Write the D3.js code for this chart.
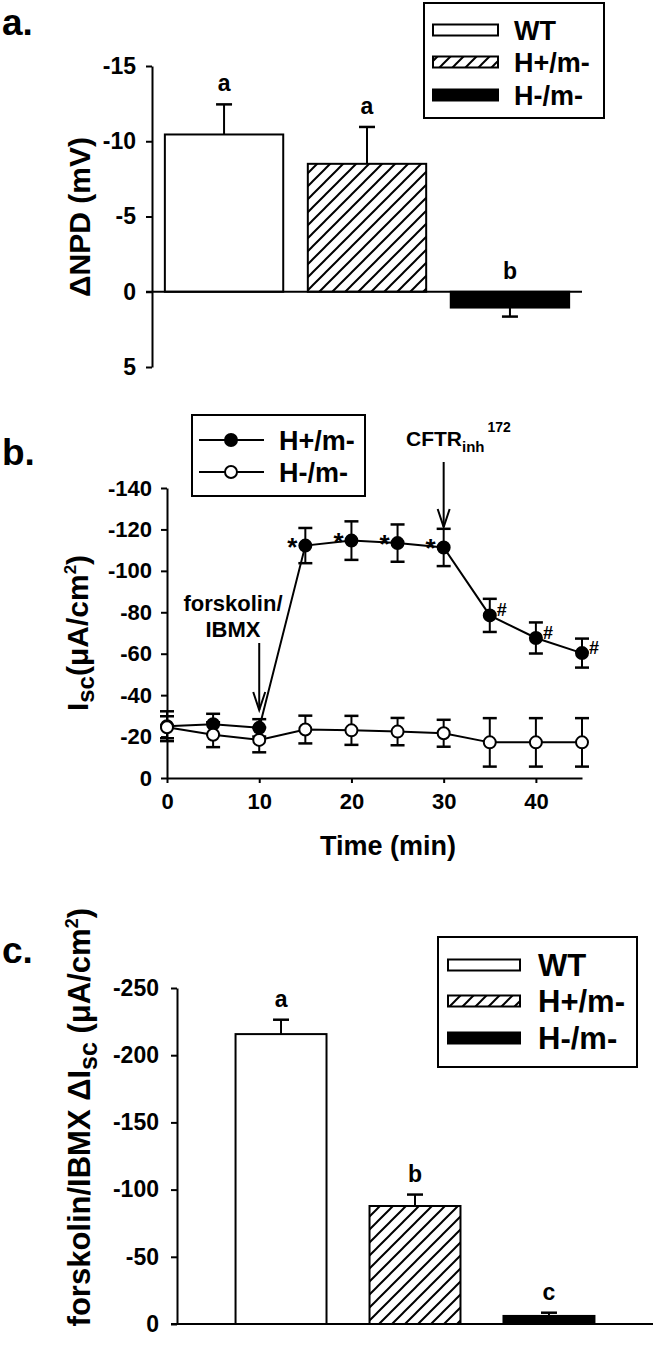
<!DOCTYPE html>
<html><head><meta charset="utf-8">
<script src="https://cdn.jsdelivr.net/npm/d3@7"></script>
<style>
body{margin:0;background:#fff}
svg text{font-family:"Liberation Sans",Arial,sans-serif;font-weight:bold;fill:#000}
</style></head><body>
<svg id="c" width="655" height="1351"></svg>
<script>
// ---------- Panel a data ----------
const groups = ["WT", "H+/m-", "H-/m-"];
const npdMeans = [-10.45, -8.5, 1.05];
const npdErrs = [2.0, 2.45, 0.6];
const npdLetters = ["a", "a", "b"];
const npdTicks = [-15, -10, -5, 0, 5];

// ---------- Panel b data ----------
const times = [0, 5, 10, 15, 20, 25, 30, 35, 40, 45];
const iscHplus = [-25, -26, -24.2, -112.2, -114.6, -113.4, -111.3, -78.5, -67.6, -60.3];
const iscHplusErr = [7.2, 5, 4.2, 8.5, 9.3, 9, 9, 8, 7.5, 7];
const iscHminus = [-24.5, -20.9, -18.4, -23.4, -23, -22.4, -21.6, -17.2, -17.2, -17.2];
const iscHminusErr = [5.3, 6, 6, 6.7, 7, 6.6, 6.5, 11.7, 11.7, 11.7];
const starTimes = [15, 20, 25, 30];
const hashTimes = [35, 40, 45];
const iscTicks = [0, -20, -40, -60, -80, -100, -120, -140];
const timeTicks = [0, 10, 20, 30, 40];
const lineSeries = ["H+/m-", "H-/m-"];

// ---------- Panel c data ----------
const fskMeans = [-215.7, -87.8, -6];
const fskErrs = [10.7, 8.5, 2.4];
const fskLetters = ["a", "b", "c"];
const fskTicks = [0, -50, -100, -150, -200, -250];

const fills = ["#fff", "url(#hatch)", "#000"];
const FONT = '"Liberation Sans", Arial, sans-serif';

const svg = d3.select("#c");
const defs = svg.append("defs");
defs.append("pattern").attr("id", "hatch").attr("patternUnits", "userSpaceOnUse")
  .attr("width", 13).attr("height", 13)
  .append("path").attr("d", "M0,13 L13,0 M-3,3 L3,-3 M10,16 L16,10")
  .attr("stroke", "#000").attr("stroke-width", 2);

function styleAxis(g, fs) {
  g.attr("font-family", null).attr("font-size", null);
  g.selectAll("path.domain").attr("stroke", "#000").attr("stroke-width", 2);
  g.selectAll(".tick line").attr("stroke", "#000").attr("stroke-width", 2);
  g.selectAll(".tick text").attr("font-size", fs).attr("font-family", FONT)
    .attr("font-weight", "bold").attr("fill", "#000");
}

function label(x, y, txt, fs) {
  return svg.append("text").attr("x", x).attr("y", y).attr("font-size", fs).text(txt);
}

function barPanel(opts) {
  const { y, x, means, errs, letters, ticks, axisX, zeroStart, tickPad, fs, letterFs, cap } = opts;
  const ax = svg.append("g").attr("transform", `translate(${axisX},0)`)
    .call(d3.axisLeft(y).tickValues(ticks).tickSize(6).tickSizeOuter(0).tickPadding(tickPad).tickFormat(d => String(d)));
  styleAxis(ax, fs);
  const y0 = y(0);
  groups.forEach((g, i) => {
    const v = means[i];
    svg.append("rect").attr("x", x(g)).attr("width", x.bandwidth())
      .attr("y", Math.min(y(v), y0)).attr("height", Math.abs(y(v) - y0))
      .attr("fill", fills[i]).attr("stroke", "#000").attr("stroke-width", 2);
    const end = v + Math.sign(v) * errs[i];
    const cx = x(g) + x.bandwidth() / 2;
    svg.append("line").attr("x1", cx).attr("x2", cx).attr("y1", y(v)).attr("y2", y(end))
      .attr("stroke", "#000").attr("stroke-width", 2);
    svg.append("line").attr("x1", cx - cap / 2).attr("x2", cx + cap / 2).attr("y1", y(end)).attr("y2", y(end))
      .attr("stroke", "#000").attr("stroke-width", 2.5);
    const top = Math.min(y(v), y(end), y0);
    svg.append("text").attr("x", cx).attr("y", top - 13).attr("text-anchor", "middle")
      .attr("font-size", letterFs).text(letters[i]);
  });
  svg.append("line").attr("x1", zeroStart).attr("x2", x.range()[1]).attr("y1", y0).attr("y2", y0)
    .attr("stroke", "#000").attr("stroke-width", 2);
}

function barLegend(bx, by, bw, bh, rows, sw, sx, tx, fs) {
  svg.append("rect").attr("x", bx).attr("y", by).attr("width", bw).attr("height", bh)
    .attr("fill", "#fff").attr("stroke", "#000").attr("stroke-width", 2);
  groups.forEach((g, i) => {
    svg.append("rect").attr("x", sx).attr("y", rows[i] - 5.5).attr("width", sw).attr("height", 11)
      .attr("fill", fills[i]).attr("stroke", "#000").attr("stroke-width", 2);
    svg.append("text").attr("x", tx).attr("y", rows[i] + fs * 0.36).attr("font-size", fs).text(g);
  });
}

// ================= Panel a =================
label(2, 35, "a.", 37);
const ya = d3.scaleLinear().domain([-15, 5]).range([66, 367]);
const xa = d3.scaleBand().domain(groups).range([152, 582]).paddingInner(0.172).paddingOuter(0.09);
barPanel({ y: ya, x: xa, means: npdMeans, errs: npdErrs, letters: npdLetters, ticks: npdTicks,
  axisX: 152, zeroStart: 146, tickPad: 10, fs: 23, letterFs: 23, cap: 16 });
svg.append("text").attr("transform", "translate(90,217) rotate(-90)").attr("text-anchor", "middle")
  .attr("font-size", 30).text("\u0394NPD (mV)");
barLegend(424, 3, 180, 115, [30, 62, 95], 65, 433, 514, 27);

// ================= Panel b =================
label(2, 465, "b.", 37);
const xb = d3.scaleLinear().domain([0, 45]).range([167, 582]);
const yb = d3.scaleLinear().domain([0, -140]).range([778, 488]);
const axBy = svg.append("g").attr("transform", "translate(167,0)")
  .call(d3.axisLeft(yb).tickValues(iscTicks).tickSize(6).tickSizeOuter(0).tickPadding(9).tickFormat(d => String(d)));
styleAxis(axBy, 22);
const axBx = svg.append("g").attr("transform", "translate(0,778)")
  .call(d3.axisBottom(xb).tickValues(timeTicks).tickSize(5).tickSizeOuter(0).tickPadding(10).tickFormat(d => String(d)));
styleAxis(axBx, 22);
svg.append("text").attr("x", 388).attr("y", 855).attr("text-anchor", "middle").attr("font-size", 27).text("Time (min)");

const yt = svg.append("text").attr("transform", "translate(88,633) rotate(-90)").attr("text-anchor", "middle").attr("font-size", 30);
yt.append("tspan").text("I");
yt.append("tspan").attr("font-size", 24).attr("dy", 6).text("sc");
yt.append("tspan").attr("dy", -6).text("(\u03bcA/cm");
yt.append("tspan").attr("font-size", 17).attr("dy", -12).text("2");
yt.append("tspan").attr("dy", 12).text(")");

const seriesVals = [iscHplus, iscHminus];
const seriesErrs = [iscHplusErr, iscHminusErr];
const seriesFill = ["#000", "#fff"];
const lineGen = d3.line().x(d => xb(d[0])).y(d => yb(d[1]));
seriesVals.forEach((vals, s) => {
  const pts = times.map((t, i) => [t, vals[i], seriesErrs[s][i]]);
  const g = svg.append("g");
  pts.forEach(p => {
    const cx = xb(p[0]);
    g.append("line").attr("x1", cx).attr("x2", cx).attr("y1", yb(p[1] - p[2])).attr("y2", yb(p[1] + p[2]))
      .attr("stroke", "#000").attr("stroke-width", 2);
    [p[1] - p[2], p[1] + p[2]].forEach(e => g.append("line").attr("x1", cx - 7).attr("x2", cx + 7)
      .attr("y1", yb(e)).attr("y2", yb(e)).attr("stroke", "#000").attr("stroke-width", 2.5));
  });
  g.append("path").attr("d", lineGen(pts)).attr("fill", "none").attr("stroke", "#000").attr("stroke-width", 2);
  pts.forEach(p => g.append("circle").attr("cx", xb(p[0])).attr("cy", yb(p[1])).attr("r", 6)
    .attr("fill", seriesFill[s]).attr("stroke", "#000").attr("stroke-width", 2));
});
starTimes.forEach(t => {
  const i = times.indexOf(t);
  svg.append("text").attr("x", xb(t) - 13).attr("y", yb(iscHplus[i]) + 10).attr("text-anchor", "middle")
    .attr("font-size", 26).text("*");
});
hashTimes.forEach(t => {
  const i = times.indexOf(t);
  svg.append("text").attr("x", xb(t) + 7).attr("y", yb(iscHplus[i]) + 1).attr("font-size", 18).text("#");
});
// forskolin annotation
svg.append("text").attr("x", 233).attr("y", 611).attr("text-anchor", "middle").attr("font-size", 22).text("forskolin/");
svg.append("text").attr("x", 233).attr("y", 637).attr("text-anchor", "middle").attr("font-size", 22).text("IBMX");
function arrow(x, y1, y2) {
  svg.append("line").attr("x1", x).attr("x2", x).attr("y1", y1).attr("y2", y2).attr("stroke", "#000").attr("stroke-width", 2);
  svg.append("path").attr("d", `M${x - 6},${y2 - 18} L${x},${y2} L${x + 6},${y2 - 18}`)
    .attr("fill", "none").attr("stroke", "#000").attr("stroke-width", 2);
}
arrow(xb(10), 643, 710);
arrow(xb(30), 462, 527);
const cf = svg.append("text").attr("x", 406).attr("y", 446).attr("font-size", 21);
cf.append("tspan").text("CFTR");
cf.append("tspan").attr("font-size", 15).attr("dy", 6).text("inh");
cf.append("tspan").attr("font-size", 14).attr("dx", 3).attr("dy", -20).text("172");

// legend b
svg.append("rect").attr("x", 192).attr("y", 415).attr("width", 173).attr("height", 81)
  .attr("fill", "#fff").attr("stroke", "#000").attr("stroke-width", 2);
lineSeries.forEach((name, s) => {
  const ly = [440, 472][s];
  svg.append("line").attr("x1", 199).attr("x2", 264).attr("y1", ly).attr("y2", ly).attr("stroke", "#000").attr("stroke-width", 2);
  svg.append("circle").attr("cx", 231).attr("cy", ly).attr("r", 6).attr("fill", seriesFill[s]).attr("stroke", "#000").attr("stroke-width", 2);
  svg.append("text").attr("x", 279).attr("y", ly + 10).attr("font-size", 27).text(name);
});

// ================= Panel c =================
label(2, 963, "c.", 37);
const yc = d3.scaleLinear().domain([0, -250]).range([1324, 988]);
const xc = d3.scaleBand().domain(groups).range([177, 653]).paddingInner(0.321).paddingOuter(0.437);
barPanel({ y: yc, x: xc, means: fskMeans, errs: fskErrs, letters: fskLetters, ticks: fskTicks,
  axisX: 177, zeroStart: 171, tickPad: 12, fs: 23, letterFs: 23, cap: 16 });
const ct = svg.append("text").attr("transform", "translate(90,908) rotate(-90)").attr("text-anchor", "end").attr("font-size", 31);
ct.append("tspan").text("forskolin/IBMX \u0394I");
ct.append("tspan").attr("font-size", 25).attr("dy", 7).text("sc");
ct.append("tspan").attr("dy", -7).text(" (\u03bcA/cm");
ct.append("tspan").attr("font-size", 18).attr("dy", -12).text("2");
ct.append("tspan").attr("dy", 12).text(")");
barLegend(438, 937, 199, 130, [965, 1001, 1038], 72, 448, 538, 31);
</script>
</body></html>
